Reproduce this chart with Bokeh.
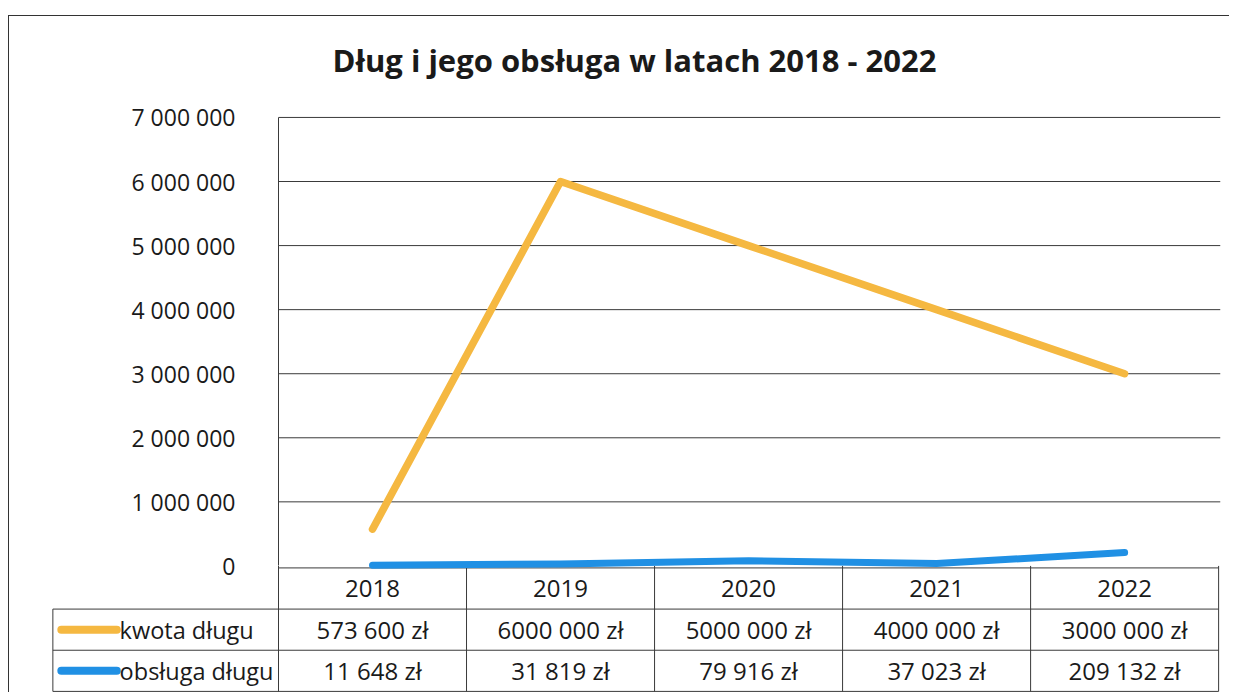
from bokeh.plotting import figure
from bokeh.models import Range1d, FixedTicker
from bokeh.layouts import column
from bokeh.embed import file_html
from bokeh.resources import INLINE
from bokeh.core.properties import value

# ---------------- data ----------------
years = ["2018", "2019", "2020", "2021", "2022"]
series_names = ["kwota długu", "obsługa długu"]
debt = [573600, 6000000, 5000000, 4000000, 3000000]
service = [11648, 31819, 79916, 37023, 209132]
debt_labels = ["573 600 zł", "6000 000 zł", "5000 000 zł", "4000 000 zł", "3000 000 zł"]
service_labels = ["11 648 zł", "31 819 zł", "79 916 zł", "37 023 zł", "209 132 zł"]
y_ticks = [0, 1000000, 2000000, 3000000, 4000000, 5000000, 6000000, 7000000]
title_text = "Dług i jego obsługa w latach 2018 - 2022"

# ---------------- style ----------------
ORANGE = "#F5B841"
BLUE = "#2090E4"
TXT = "#1a1a1a"
LINE = "#3a3a3a"
FONT = "Open Sans"

n = len(years)
xs = [i + 0.5 for i in range(n)]
x_end = n + 0.01
W = 1220
H = 676
ppu = 942.0 / x_end                 # pixels per category unit
frame_w = W - 39 - 9
x_start = x_end - frame_w / ppu      # room for the header column on the left
hdr = -1.2                           # header column left edge (category units)

# vertical scale: 7 000 000 spans 450 px
ymax = y_ticks[-1]
ppm = 450.0 / ymax
top_pad_px = 17.0                    # space above the top grid line
bot_pad_px = 127.0                   # space below zero for the data table
row_px = 41.3


def table_y(k):
    """y of the k-th horizontal table rule (0 = top of the table)."""
    return -(2.0 + row_px * k) / ppm


p = figure(width=W, height=H,
           x_range=Range1d(x_start, x_end),
           y_range=Range1d(-bot_pad_px / ppm, ymax + top_pad_px / ppm),
           output_backend="svg", toolbar_location=None,
           x_axis_location=None, y_axis_location="left",
           min_border_left=39, min_border_right=9,
           min_border_top=82, min_border_bottom=0,
           title=title_text)
p.outline_line_color = None
p.background_fill_color = "white"
p.border_fill_color = "white"

p.title.text_font = FONT
p.title.text_font_style = "bold"
p.title.text_font_size = "31px"
p.title.text_color = TXT
p.title.align = "center"
p.title.standoff = 40

yax = p.yaxis[0]
yax.fixed_location = 0
yax.bounds = (0, ymax)
yax.ticker = FixedTicker(ticks=y_ticks)
yax.major_label_overrides = {t: f"{t:,}".replace(",", " ") for t in y_ticks}
yax.major_tick_line_color = None
yax.minor_tick_line_color = None
yax.major_tick_out = 0
yax.major_tick_in = 0
yax.axis_line_color = LINE
yax.axis_line_width = 1
yax.major_label_standoff = 43
yax.major_label_text_font = FONT
yax.major_label_text_font_size = "23px"
yax.major_label_text_color = TXT

p.xgrid.visible = False
p.ygrid.visible = False
gt = y_ticks[1:]
p.segment(x0=[0] * len(gt), x1=[x_end] * len(gt), y0=gt, y1=gt,
          line_color=LINE, line_width=1)

# ---------------- data table (below the plot area) ----------------
ty = [table_y(k) for k in range(4)]
p.segment(x0=[0, hdr, hdr, hdr], x1=[n] * 4, y0=ty, y1=ty, line_color=LINE, line_width=1)
vx = list(range(n + 1))
p.segment(x0=vx, x1=vx, y0=[0] * len(vx), y1=[ty[3]] * len(vx), line_color=LINE, line_width=1)
p.segment(x0=[hdr], x1=[hdr], y0=[ty[1]], y1=[ty[3]], line_color=LINE, line_width=1)

mid = [(ty[k] + ty[k + 1]) / 2 for k in range(3)]
tkw = dict(text_font=value(FONT), text_color=TXT, text_baseline="middle")
p.text(x=xs, y=[mid[0]] * n, text=years, text_align="center", text_font_size="24px", **tkw)
p.text(x=xs, y=[mid[1]] * n, text=debt_labels, text_align="center", text_font_size="24px", **tkw)
p.text(x=xs, y=[mid[2]] * n, text=service_labels, text_align="center", text_font_size="24px", **tkw)

# legend keys in header column
p.segment(x0=[-1.155, -1.155], x1=[-0.86, -0.86], y0=mid[1:], y1=mid[1:],
          line_color=[ORANGE, BLUE], line_width=8, line_cap="round")
p.text(x=[-0.845, -0.845], y=mid[1:], text=series_names, text_align="left",
       text_font_size="23.5px", **tkw)

# ---------------- series ----------------
p.line(xs, debt, line_width=7.5, color=ORANGE, line_cap="round", line_join="round")
p.line(xs, service, line_width=7, color=BLUE, line_cap="round", line_join="round")

layout = column(p, margin=(15, 0, 0, 8),
                styles={"border-top": "1px solid #333", "border-left": "1px solid #333"})

open("out.html", "w").write(file_html(layout, INLINE))
